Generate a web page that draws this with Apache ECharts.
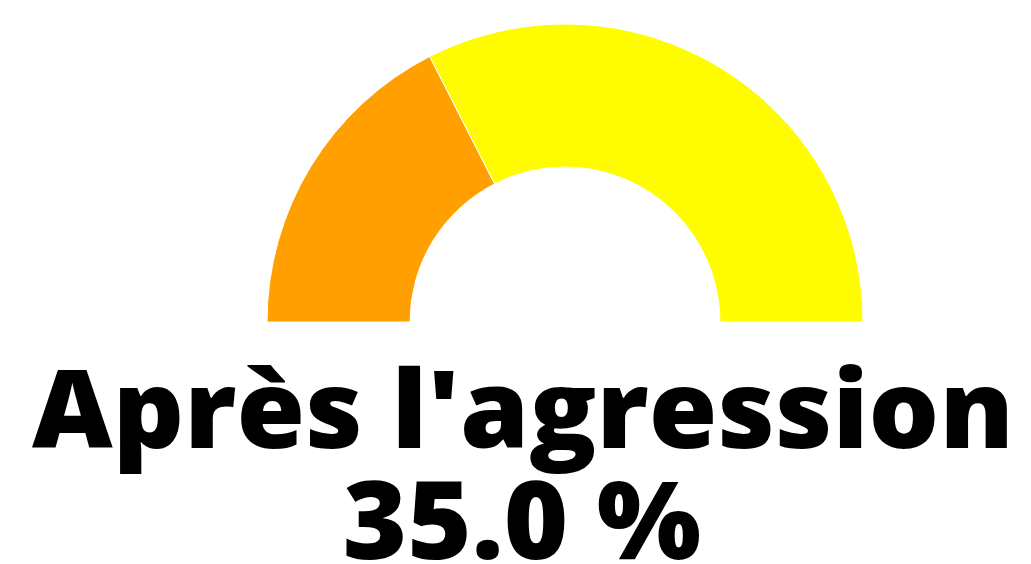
<!DOCTYPE html>
<html><head><meta charset="utf-8">
<script src="https://cdn.jsdelivr.net/npm/echarts@6/dist/echarts.min.js"></script>
<style>html,body{margin:0;padding:0;background:#fff}#c{width:1031px;height:564px}</style>
</head><body><div id="c"></div>
<script>
const categories = ["Après l'agression", "Reste"];
const values = [35.0, 65.0];
const colors = ['#ffa000', '#fffc00'];
const titleText = "Après l'agression";
const valueText = values[0].toFixed(1) + ' %';

const chart = echarts.init(document.getElementById('c'), null, {renderer: 'canvas'});
const total = values.reduce((a, b) => a + b, 0);
const data = values.map((v, i) => ({name: categories[i], value: v, itemStyle: {color: colors[i]}}));
data.push({name: 'hidden', value: total, itemStyle: {color: 'rgba(0,0,0,0)', borderWidth: 0}, label: {show: false}, emphasis: {disabled: true}});
chart.setOption({
  animation: false,
  backgroundColor: '#fff',
  series: [{
    type: 'pie',
    center: [565, 322],
    radius: [155, 298],
    startAngle: 180,
    clockwise: true,
    label: {show: false},
    labelLine: {show: false},
    itemStyle: {borderColor: '#fff', borderWidth: 1},
    data: data
  }],
  graphic: [
    {type: 'text', x: 523, y: 471, scaleX: 1.02, style: {text: titleText, font: '800 109px "Open Sans"', fill: '#000', textAlign: 'center', textVerticalAlign: 'bottom'}},
    {type: 'text', x: 522, y: 582, scaleX: 1.01, style: {text: valueText, font: '800 109px "Open Sans"', fill: '#000', textAlign: 'center', textVerticalAlign: 'bottom'}}
  ]
});
</script></body></html>
